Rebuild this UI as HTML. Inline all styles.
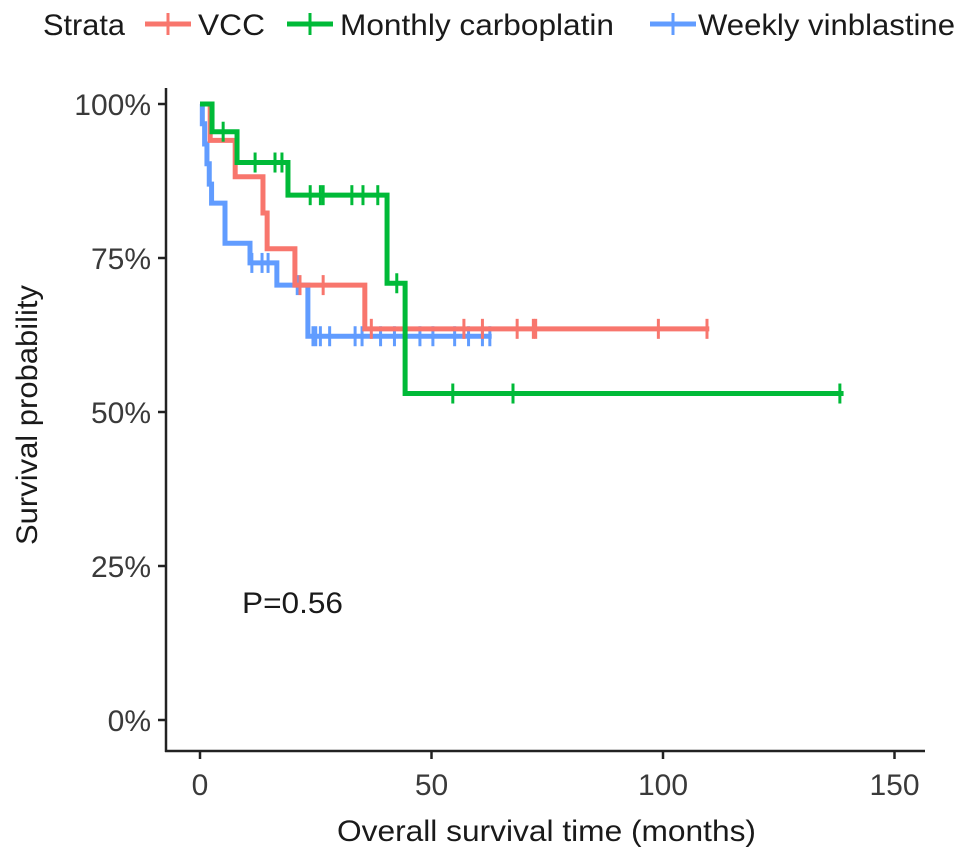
<!DOCTYPE html>
<html><head><meta charset="utf-8"><style>
body{margin:0;background:#fff}
svg{display:block;font-family:"Liberation Sans",Arial,sans-serif}
</style></head><body>
<svg id="chart" width="969" height="859" viewBox="0 0 969 859">
<g id="legend">
<text x="43" y="35" font-size="30" fill="#1a1a1a" textLength="82" lengthAdjust="spacingAndGlyphs">Strata</text>
</g>
<g id="axes"></g>
<g id="curves"></g>
<text x="242" y="613" font-size="30" fill="#1a1a1a" textLength="101" lengthAdjust="spacingAndGlyphs">P=0.56</text>
<text x="337" y="841" font-size="30" fill="#1a1a1a" textLength="419" lengthAdjust="spacingAndGlyphs">Overall survival time (months)</text>
<text transform="translate(37,545) rotate(-90)" font-size="30" fill="#1a1a1a" textLength="260" lengthAdjust="spacingAndGlyphs">Survival probability</text>
</svg>
<script>
const xTicks=[0,50,100,150];
const yTicks=[0,25,50,75,100];
const yTickLabels=["0%","25%","50%","75%","100%"];
const seriesNames=["VCC","Monthly carboplatin","Weekly vinblastine"];
const seriesColors=["#f8766d","#00ba38","#619cff"];
const vccTimes=[0,2.2,7.6,13.6,14.5,20.5,35.6];
const vccSurv=[100,94.1,88.2,82.3,76.5,70.6,63.5];
const vccCensorT=[21.6,26.6,37,57,61,68.5,72,72.5,99,109.5];
const vccEnd=110;
const carboTimes=[0,2.6,8,19,40.4,44.3];
const carboSurv=[100,95.5,90.5,85.2,70.9,53];
const carboCensorT=[5,11.9,16.2,17.7,23.8,26,26.6,32.8,35.2,38.4,42.5,54.6,67.6,138.2];
const carboEnd=139;
const vinTimes=[0,0.5,1,1.5,2,2.5,5.4,10.8,16.6,23.3];
const vinSurv=[100,96.8,93.5,90.3,87,83.9,77.4,74.2,70.6,62.3];
const vinCensorT=[11.2,13.4,14.7,21,24.4,25,26,28,33.5,35,39,42,47.5,50.3,55,58,61,62.6];
const vinEnd=63;

const NS="http://www.w3.org/2000/svg";
const X=t=>200+t*4.63;
const Y=p=>720-p*6.16;
function mk(tag,attrs,parent){const e=document.createElementNS(NS,tag);for(const k in attrs)e.setAttribute(k,attrs[k]);parent.appendChild(e);return e;}
const axes=document.getElementById('axes');
mk('line',{x1:166,y1:88,x2:166,y2:752,stroke:'#222','stroke-width':2.5},axes);
mk('line',{x1:165,y1:751,x2:925,y2:751,stroke:'#222','stroke-width':2.5},axes);
xTicks.forEach(v=>{
 const t=mk('line',{x1:X(v),y1:751,x2:X(v),y2:759,stroke:'#222','stroke-width':2.5},axes);
 
 
 const l=mk('text',{x:X(v),y:795,'font-size':30,fill:'#3a3a3a','text-anchor':'middle'},axes);
 l.textContent=v;
 
 
});
yTicks.forEach((v,i)=>{
 const t=mk('line',{x1:158,y1:Y(v),x2:166,y2:Y(v),stroke:'#222','stroke-width':2.5},axes);
 
 
 const l=mk('text',{x:151,y:Y(v)+11,'font-size':30,fill:'#3a3a3a','text-anchor':'end'},axes);
 l.textContent=yTickLabels[i];
 
 
});
function survAt(times,surv,t){let s=surv[0];for(let i=0;i<times.length;i++){if(times[i]<=t)s=surv[i];}return s;}
const curves=document.getElementById('curves');
function drawCurve(times,surv,cens,end,color,name){
 const g=mk('g',{},curves);
 
 
 let d='M'+X(times[0])+','+Y(surv[0]);
 for(let i=1;i<times.length;i++){d+=' H'+X(times[i])+' V'+Y(surv[i]);}
 d+=' H'+X(end);
 mk('path',{d:d,fill:'none',stroke:color,'stroke-width':5},g);
 cens.forEach(t=>{
  const m=mk('line',{x1:X(t),x2:X(t),y1:Y(survAt(times,surv,t))-10,y2:Y(survAt(times,surv,t))+10,stroke:color,'stroke-width':3},g);
  
  
 });
}
drawCurve(vinTimes,vinSurv,vinCensorT,vinEnd,seriesColors[2],'weekly-vinblastine');
drawCurve(vccTimes,vccSurv,vccCensorT,vccEnd,seriesColors[0],'vcc');
drawCurve(carboTimes,carboSurv,carboCensorT,carboEnd,seriesColors[1],'monthly-carboplatin');
const leg=document.getElementById('legend');
const legX=[145,287,650];
const legTextX=[198,340,698];
const legTextW=[67,274,257];
seriesNames.forEach((n,i)=>{
 const g=mk('g',{},leg);
 
 
 mk('line',{x1:legX[i],x2:legX[i]+46,y1:24,y2:24,stroke:seriesColors[i],'stroke-width':5},g);
 mk('line',{x1:legX[i]+23,x2:legX[i]+23,y1:13,y2:35,stroke:seriesColors[i],'stroke-width':3},g);
 const t=mk('text',{x:legTextX[i],y:35,'font-size':30,fill:'#1a1a1a',textLength:legTextW[i],lengthAdjust:'spacingAndGlyphs'},g);
 t.textContent=n;
});
</script>
</body></html>
